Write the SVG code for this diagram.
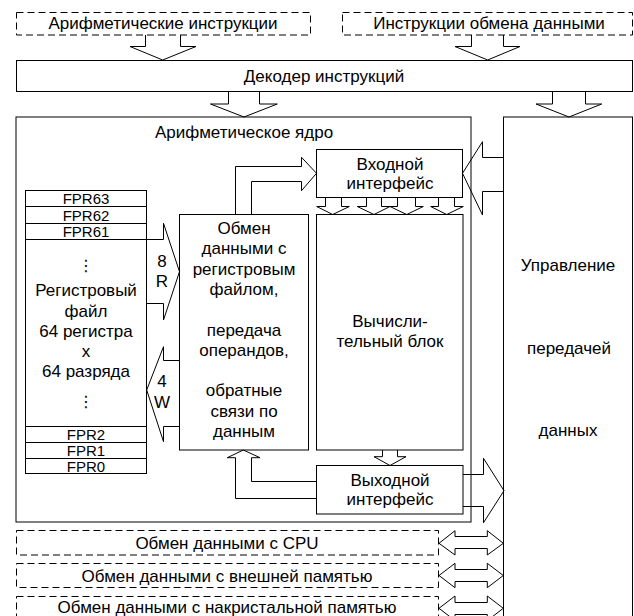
<svg xmlns="http://www.w3.org/2000/svg" width="634" height="616" viewBox="0 0 634 616">
<style>
text{font-family:"Liberation Sans",Arial,sans-serif;font-size:17px;fill:#000;text-anchor:middle}
.fpr{font-size:15px}
.box{fill:none;stroke:#000;stroke-width:1}
.dash{fill:none;stroke:#000;stroke-width:1;stroke-dasharray:7 4}
.arr{fill:none;stroke:#000;stroke-width:1;stroke-linejoin:miter}
.dots{font-family:"DejaVu Sans",sans-serif;font-size:16px}
</style>
<rect width="634" height="616" fill="#fff"/>
<g id="arith-instr"><rect class="dash" x="16.5" y="12.5" width="294" height="22.5"/><text x="163" y="29">Арифметические инструкции</text></g>
<g id="data-instr"><rect class="dash" x="342.5" y="12.5" width="290" height="22.5"/><text x="489" y="29">Инструкции обмена данными</text></g>
<g id="decoder"><rect class="box" x="16.5" y="60.5" width="616" height="31"/><text x="324" y="82">Декодер инструкций</text></g>
<g id="core"><rect class="box" x="16" y="117" width="455" height="405"/><text x="244" y="138">Арифметическое ядро</text></g>
<g id="transfer"><rect class="box" x="503.5" y="117" width="129" height="510"/><text x="568" y="271">Управление</text><text x="569" y="353.5">передачей</text><text x="568" y="436">данных</text></g>
<g id="regfile">
<rect class="box" x="25.5" y="190.5" width="121" height="283"/>
<line class="box" x1="25.5" y1="206.5" x2="146.5" y2="206.5"/>
<line class="box" x1="25.5" y1="223.5" x2="146.5" y2="223.5"/>
<line class="box" x1="25.5" y1="239.5" x2="146.5" y2="239.5"/>
<line class="box" x1="25.5" y1="426.5" x2="146.5" y2="426.5"/>
<line class="box" x1="25.5" y1="442.5" x2="146.5" y2="442.5"/>
<line class="box" x1="25.5" y1="458.5" x2="146.5" y2="458.5"/>
<text class="fpr" x="86" y="204">FPR63</text><text class="fpr" x="86" y="220.5">FPR62</text><text class="fpr" x="86" y="237">FPR61</text>
<text class="dots" x="86" y="271">⋮</text>
<text x="86" y="296">Регистровый</text><text x="86" y="316.5">файл</text><text x="86" y="337">64 регистра</text><text x="86" y="357">x</text><text x="86" y="377">64 разряда</text>
<text class="dots" x="86" y="407">⋮</text>
<text class="fpr" x="86" y="440">FPR2</text><text class="fpr" x="86" y="456">FPR1</text><text class="fpr" x="86" y="472">FPR0</text>
</g>
<g id="exchange"><rect class="box" x="179.5" y="214.5" width="129" height="235.5"/>
<text x="244" y="234">Обмен</text><text x="244" y="254.3">данными с</text><text x="244" y="274.6">регистровым</text><text x="244" y="294.9">файлом,</text><text x="244" y="335.5">передача</text><text x="244" y="355.8">операндов,</text><text x="244" y="396.4">обратные</text><text x="244" y="416.7">связи по</text><text x="244" y="437">данным</text></g>
<g id="input-iface"><rect class="box" x="316.5" y="149.5" width="146" height="48"/><text x="390" y="169.5">Входной</text><text x="390" y="189">интерфейс</text></g>
<g id="compute"><rect class="box" x="316.5" y="214.5" width="146.5" height="235.5"/><text x="390" y="326.7">Вычисли-</text><text x="390" y="346.7">тельный блок</text></g>
<g id="output-iface"><rect class="box" x="316.5" y="465.5" width="146.5" height="48.5"/><text x="390" y="485.7">Выходной</text><text x="390" y="505">интерфейс</text></g>
<g id="cpu-x"><rect class="dash" x="16.5" y="530.5" width="422" height="24.5"/><text x="227" y="549">Обмен данными с CPU</text></g>
<g id="ext-mem"><rect class="dash" x="16.5" y="563.5" width="422" height="24"/><text x="227" y="581.5">Обмен данными с внешней памятью</text></g>
<g id="onchip-mem"><rect class="dash" x="16.5" y="596.5" width="422" height="30"/><text x="227" y="613">Обмен данными с накристальной памятью</text></g>
<g id="connectors">
<polyline class="arr" points="145.5,35 145.5,46.5 130,46.5 162.7,60 196,46.5 180.5,46.5 180.5,35"/>
<polyline class="arr" points="471.5,35 471.5,46.5 455,46.5 487.7,60 520,46.5 503.5,46.5 503.5,35"/>
<polyline class="arr" points="228.5,91.5 228.5,104 210.5,104 244,117 277.3,104 259.5,104 259.5,91.5"/>
<polyline class="arr" points="552.5,91.5 552.5,104 536,104 569,117 601.7,104 585.5,104 585.5,91.5"/>
<polyline class="arr" points="146.5,239.5 163.5,239.5 163.5,223.3 179.5,271.7 163.5,320 163.5,303.5 146.5,303.5"/>
<text x="162" y="266.7">8</text><text x="162" y="286.7">R</text>
<polyline class="arr" points="179.5,360.5 163.5,360.5 163.5,346.7 146.7,390 163.5,441.7 163.5,426.5 179.5,426.5"/>
<text x="162" y="387.3">4</text><text x="162" y="408.3">W</text>
<polyline class="arr" points="235.5,214.5 235.5,166.5 301.5,166.5 301.5,157.3 316.5,173.3 301.5,190.7 301.5,181.5 251.5,181.5 251.5,214.5"/>
<polyline class="arr" points="503.5,157.5 482.5,157.5 482.5,141.7 462.5,173.3 482.5,215 482.5,191.5 503.5,191.5"/>
<polyline class="arr" points="325.5,197.5 325.5,206.5 316.7,206.5 332.7,214.5 349.3,206.5 341.5,206.5 341.5,197.5"/>
<polyline class="arr" points="366.5,197.5 366.5,206.5 357.3,206.5 374,214.5 390,206.5 381.5,206.5 381.5,197.5"/>
<polyline class="arr" points="397.5,197.5 397.5,206.5 390,206.5 406.7,214.5 423.3,206.5 415.5,206.5 415.5,197.5"/>
<polyline class="arr" points="438.5,197.5 438.5,206.5 430.7,206.5 446.7,214.5 463.3,206.5 454.5,206.5 454.5,197.5"/>
<polyline class="arr" points="382.5,450 382.5,456.7 374,456.7 390,465.5 406,456.7 397.5,456.7 397.5,450"/>
<polyline class="arr" points="463,474.5 483.5,474.5 483.5,458.3 504,490.7 483.5,522.7 483.5,506.5 463,506.5"/>
<polyline class="arr" points="316.5,498.5 235.5,498.5 235.5,457.7 227.3,457.7 243.3,450 260,457.7 251.5,457.7 251.5,481.5 316.5,481.5"/>
<polygon class="arr" points="439,543.3 455,530.7 455,536.5 487.3,536.5 487.3,530.7 503.3,543.3 487.3,555 487.3,548.5 455,548.5 455,555"/>
<polygon class="arr" points="439,575.5 455,563.3 455,569.5 487.3,569.5 487.3,563.3 503.3,575.5 487.3,587.7 487.3,581.5 455,581.5 455,587.7"/>
<polygon class="arr" points="439,608.3 455,596 455,602.5 487.3,602.5 487.3,596 503.3,608.3 487.3,620.6 487.3,614.5 455,614.5 455,620.6"/>
</g>
</svg>
